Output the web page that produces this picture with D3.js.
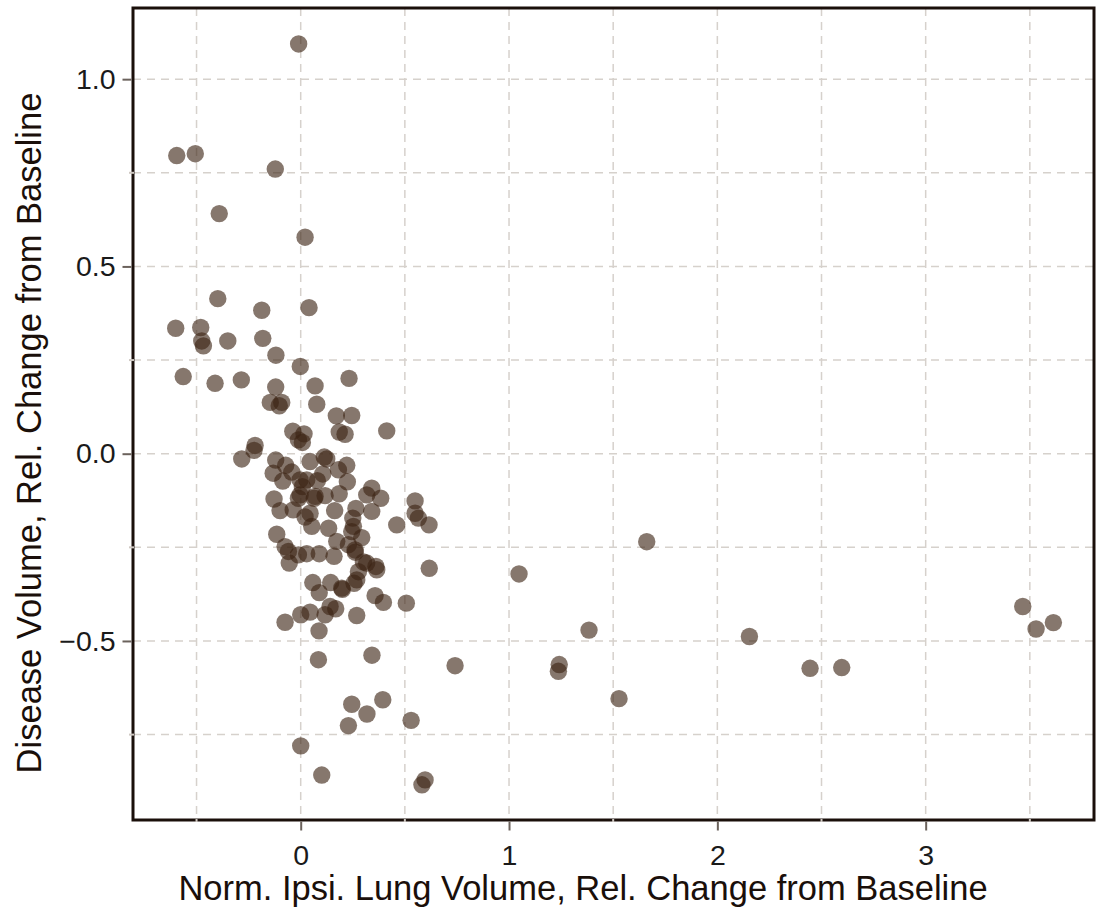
<!DOCTYPE html>
<html>
<head>
<meta charset="utf-8">
<script src="https://cdn.jsdelivr.net/npm/d3@7"></script>
<style>
  body { margin: 0; background: #fff; }
  .grid line { stroke: #d6d1cc; stroke-width: 1.5; stroke-dasharray: 8 6; }
  .tick-label { font-family: "Liberation Sans", Arial, sans-serif; font-size: 28.5px; fill: #1a1a1a; }
  .title { font-family: "Liberation Sans", Arial, sans-serif; font-size: 34.5px; fill: #1a0f0a; }
</style>
</head>
<body>
<div id="vis1"></div>
<script>
const FRAME_HEIGHT = 914;
const FRAME_WIDTH = 1097;
const MARGINS = {left: 133, right: 3, top: 8, bottom: 94};

const VIS_WIDTH = FRAME_WIDTH - MARGINS.left - MARGINS.right;
const VIS_HEIGHT = FRAME_HEIGHT - MARGINS.top - MARGINS.bottom;

// x: normalised ipsilateral lung volume change, y: disease volume change
const xValues = [
  -0.01, -0.595, -0.506, -0.122, -0.391, 0.021, -0.398, -0.187, 0.040, -0.600,
  -0.480, -0.475, -0.467, -0.350, -0.182, -0.119, -0.002, -0.564, -0.411, -0.285,
  -0.120, 0.069, 0.232, -0.146, -0.091, -0.103, 0.077, 0.171, 0.245, 0.185,
  0.213, 0.413, -0.038, 0.016, -0.011, 0.008, -0.219, -0.224, -0.283, -0.120,
  0.045, 0.113, 0.125, 0.221, -0.072, -0.043, -0.132, 0.106, -0.086, -0.003,
  0.008, 0.080, 0.224, 0.029, 0.181, -0.128, -0.099, -0.011, 0.065, 0.117,
  0.185, 0.045, 0.021, -0.036, 0.163, 0.265, 0.341, 0.317, 0.384, 0.341,
  0.250, 0.549, 0.549, 0.565, 0.616, 0.461, 0.134, 0.253, -0.115, 0.245,
  0.293, -0.075, 0.173, 0.229, 0.261, -0.055, -0.011, 0.029, 0.089, 0.160,
  0.262, 0.317, 0.361, 0.365, 0.277, 0.269, 0.256, 0.617, 0.058, 0.144,
  0.200, 0.089, 0.357, 0.397, 0.507, 0.141, 0.168, 0.117, 0.045, 0.000,
  -0.075, 0.269, 0.088, 0.085, 0.342, 0.741, 0.245, 0.394, 0.318, 0.229,
  0.530, 0.000, 0.101, 0.597, 0.582, 1.661, 1.048, 1.384, 2.154, 1.241,
  1.237, 1.528, 2.445, 2.597, 3.466, 3.530, 3.613, 0.053, -0.059, 0.301,
  0.197, 0.069, -0.003
];
const yValues = [
  1.094, 0.796, 0.801, 0.760, 0.641, 0.578, 0.414, 0.383, 0.390, 0.335,
  0.337, 0.301, 0.288, 0.301, 0.308, 0.263, 0.233, 0.206, 0.188, 0.197,
  0.178, 0.181, 0.201, 0.137, 0.137, 0.128, 0.132, 0.101, 0.102, 0.058,
  0.052, 0.061, 0.060, 0.053, 0.037, 0.030, 0.022, 0.009, -0.014, -0.017,
  -0.021, -0.009, -0.014, -0.031, -0.031, -0.049, -0.052, -0.054, -0.073, -0.070,
  -0.088, -0.072, -0.075, -0.070, -0.043, -0.121, -0.152, -0.119, -0.119, -0.112,
  -0.107, -0.159, -0.169, -0.150, -0.152, -0.146, -0.092, -0.110, -0.119, -0.154,
  -0.172, -0.126, -0.159, -0.172, -0.190, -0.190, -0.199, -0.194, -0.215, -0.208,
  -0.224, -0.248, -0.234, -0.243, -0.257, -0.292, -0.270, -0.267, -0.267, -0.274,
  -0.263, -0.292, -0.301, -0.310, -0.315, -0.337, -0.346, -0.306, -0.344, -0.344,
  -0.362, -0.371, -0.379, -0.397, -0.399, -0.408, -0.414, -0.430, -0.423, -0.430,
  -0.450, -0.432, -0.473, -0.550, -0.538, -0.566, -0.669, -0.657, -0.695, -0.726,
  -0.712, -0.780, -0.858, -0.871, -0.884, -0.235, -0.321, -0.471, -0.488, -0.563,
  -0.581, -0.654, -0.573, -0.571, -0.408, -0.468, -0.451, -0.194, -0.261, -0.289,
  -0.359, -0.114, -0.110
];

const xTicks = [0, 1, 2, 3];
const xMinorTicks = [-0.5, 0.5, 1.5, 2.5, 3.5];
const yTicks = [-0.5, 0.0, 0.5, 1.0];
const yMinorTicks = [-0.75, -0.25, 0.25, 0.75];

const X_TITLE = "Norm. Ipsi. Lung Volume, Rel. Change from Baseline";
const Y_TITLE = "Disease Volume, Rel. Change from Baseline";

const FRAME = d3.select("#vis1")
                  .append("svg")
                    .attr("height", FRAME_HEIGHT)
                    .attr("width", FRAME_WIDTH);

const X_SCALE = d3.scaleLinear()
                  .domain([-0.805, 3.808])
                  .range([MARGINS.left, MARGINS.left + VIS_WIDTH]);

const Y_SCALE = d3.scaleLinear()
                  .domain([-0.978, 1.19])
                  .range([MARGINS.top + VIS_HEIGHT, MARGINS.top]);

const fmtY = (d) => d3.format(".1f")(d).replace("-", "\u2212");

// dashed grid, major and minor
const grid = FRAME.append("g").attr("class", "grid");
grid.selectAll(".vx")
    .data(xTicks.concat(xMinorTicks))
    .enter()
    .append("line")
      .attr("x1", (d) => X_SCALE(d))
      .attr("x2", (d) => X_SCALE(d))
      .attr("y1", MARGINS.top)
      .attr("y2", MARGINS.top + VIS_HEIGHT);
grid.selectAll(".hy")
    .data(yTicks.concat(yMinorTicks))
    .enter()
    .append("line")
      .attr("x1", MARGINS.left)
      .attr("x2", MARGINS.left + VIS_WIDTH)
      .attr("y1", (d) => Y_SCALE(d))
      .attr("y2", (d) => Y_SCALE(d));

// points
FRAME.append("g")
    .selectAll("circle")
    .data(d3.zip(xValues, yValues))
    .enter()
    .append("circle")
      .attr("cx", (d) => X_SCALE(d[0]))
      .attr("cy", (d) => Y_SCALE(d[1]))
      .attr("r", 8.7)
      .attr("fill", "#3c2314")
      .attr("fill-opacity", 0.62);

// frame
FRAME.append("rect")
    .attr("x", MARGINS.left)
    .attr("y", MARGINS.top)
    .attr("width", VIS_WIDTH)
    .attr("height", VIS_HEIGHT)
    .attr("fill", "none")
    .attr("stroke", "#1a0f0a")
    .attr("stroke-width", 3);

// x axis
const xAxis = FRAME.append("g")
    .attr("transform", "translate(0," + (MARGINS.top + VIS_HEIGHT + 1.5) + ")")
    .call(d3.axisBottom(X_SCALE).tickValues(xTicks).tickSize(9).tickPadding(14)
            .tickFormat(d3.format("d")));
xAxis.select(".domain").remove();
xAxis.selectAll("line").attr("stroke", "#6b625c").attr("stroke-width", 2);
xAxis.selectAll("text").attr("class", "tick-label").attr("font-size", null).attr("font-family", null);

FRAME.append("g")
    .selectAll("line")
    .data(xMinorTicks)
    .enter()
    .append("line")
      .attr("x1", (d) => X_SCALE(d))
      .attr("x2", (d) => X_SCALE(d))
      .attr("y1", MARGINS.top + VIS_HEIGHT - 1)
      .attr("y2", MARGINS.top + VIS_HEIGHT + 2)
      .attr("stroke", "#cfc8c2")
      .attr("stroke-width", 2);

// y axis
const yAxis = FRAME.append("g")
    .attr("transform", "translate(" + (MARGINS.left - 1.5) + ",0)")
    .call(d3.axisLeft(Y_SCALE).tickValues(yTicks).tickSize(9).tickPadding(7)
            .tickFormat(fmtY));
yAxis.select(".domain").remove();
yAxis.selectAll("line").attr("stroke", "#6b625c").attr("stroke-width", 2);
yAxis.selectAll("text").attr("class", "tick-label").attr("font-size", null).attr("font-family", null);

FRAME.append("g")
    .selectAll("line")
    .data(yMinorTicks)
    .enter()
    .append("line")
      .attr("x1", MARGINS.left - 4)
      .attr("x2", MARGINS.left + 1)
      .attr("y1", (d) => Y_SCALE(d))
      .attr("y2", (d) => Y_SCALE(d))
      .attr("stroke", "#cfc8c2")
      .attr("stroke-width", 2);

// titles
FRAME.append("text")
    .attr("class", "title")
    .attr("x", 583)
    .attr("y", 900)
    .attr("text-anchor", "middle")
    .text(X_TITLE);

FRAME.append("text")
    .attr("class", "title")
    .attr("transform", "translate(41," + 433 + ") rotate(-90)")
    .attr("text-anchor", "middle")
    .text(Y_TITLE);
</script>
</body>
</html>
